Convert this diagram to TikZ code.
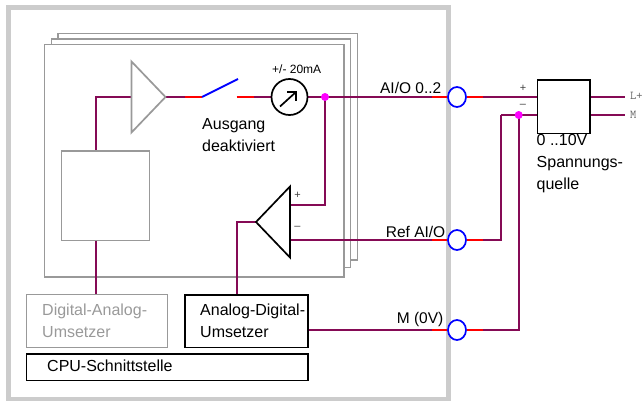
\documentclass[tikz,border=0pt]{standalone}
\usepackage{fontspec}
\setmainfont{Liberation Sans}
\usetikzlibrary{shapes.geometric,positioning}
\definecolor{wirecol}{HTML}{850A55}
\definecolor{framecol}{HTML}{CCCCCC}
\definecolor{cardcol}{HTML}{999999}
\definecolor{dotcol}{HTML}{FF00FF}
\begin{document}
\begin{tikzpicture}[x=1pt,y=-1pt,line join=miter]
 \tikzstyle{frame node}=[rectangle,draw=framecol,line width=5pt,minimum width=440.5pt,minimum height=391.5pt]
 \tikzstyle{card node}=[rectangle,draw=cardcol,fill=white,line width=1.5pt,anchor=north west]
 \tikzstyle{gray box}=[rectangle,draw=cardcol,line width=1.3pt,anchor=north west,inner sep=0]
 \tikzstyle{black box}=[rectangle,draw=black,line width=1.7pt,anchor=north west,inner sep=0]
 \tikzset{
 	main text/.style={font=\fontsize{16}{22}\selectfont,anchor=west,align=left,inner sep=0},
 	port text/.style={font=\fontsize{15.5}{20}\selectfont,anchor=east,inner sep=0},
 	sign text/.style={font=\fontsize{11}{11}\selectfont,text=black!75,inner sep=0},
 	pin text/.style={font=\ttfamily\fontsize{12}{12}\selectfont,text=black!60,anchor=west,inner sep=0},
 	amp node/.style={isosceles triangle,isosceles triangle stretches,anchor=apex,inner sep=0,outer sep=0,
 	  minimum width=71pt,minimum height=34pt,line width=1.7pt},
 	term node/.style={ellipse,draw=blue,fill=white,line width=1.7pt,minimum width=18pt,minimum height=20pt,inner sep=0},
 	junction node/.style={circle,fill=dotcol,minimum size=8pt,inner sep=0},
 	wire/.style={draw=wirecol,line width=2pt},
 	red wire/.style={draw=red,line width=2pt}
 }
 \useasboundingbox (0,0) rectangle (643,401);

       \node[frame node] (frame) at (228.5,203.75) {};
       \node[card node,minimum width=299.5pt,minimum height=226.5pt] (card3) at (57.3,32.7) {};
       \node[card node,minimum width=299pt,minimum height=228.5pt] (card2) at (50.7,38.3) {};
       \node[card node,minimum width=299.5pt,minimum height=232pt] (card1) at (43.5,44) {};

       \coordinate (dt) at (96,150.5);
       \coordinate (db) at (96,240);
       \coordinate (da) at (96,294);
       \coordinate (adcin) at (237,294);
       \coordinate (swa) at (202,97);
       \coordinate (swb) at (238,79);
       \coordinate (swc) at (236.5,97);
       \coordinate (ra) at (185,97);
       \coordinate (rb) at (254,97);
       \coordinate (in0) at (536.5,97);
       \coordinate (in1) at (536.5,115);
       \coordinate (out0) at (625,97);
       \coordinate (out1) at (625,115);
       \coordinate (src0) at (589,97);
       \coordinate (src1) at (589,115);
       \coordinate (bend) at (501,115);
       \coordinate (plus) at (290,205);
       \coordinate (minus) at (290,240);
       \coordinate (adcout) at (307.3,330);
       \coordinate (ma) at (280,106.5);
       \coordinate (mb) at (296,92);
       \coordinate (mc) at (287,92);
       \coordinate (md) at (296,101);
       \coordinate (l0) at (432,97);
       \coordinate (l1) at (432,240);
       \coordinate (l2) at (432,330);
       \coordinate (p0) at (483,97);
       \coordinate (p1) at (483,240);
       \coordinate (p2) at (483,330);

     \draw[wire] (dt) |- (131.5,97);
     \path[wire] (da) edge (db);
     \path[wire] (166,97) edge (ra);
     \path[wire] (rb) edge (272,97);
     \path[wire] (307,97) edge (l0);
     \draw[wire] (plus) -| (325,97);
     \path[wire] (minus) edge (l1);
     \draw[wire] (256,222) -| (adcin);
     \path[wire] (adcout) edge (l2);
     \path[wire] (p0) edge (in0);
     \path[wire] (src0) edge (out0);
     \path[wire] (src1) edge (out1);
     \path[wire] (bend) edge (in1);
     \draw[wire] (bend) |- (p1);
     \draw[wire] (518.7,115) |- (p2);

       \node[amp node,draw=cardcol,shape border rotate=0] (dac amp) at (165.5,97) {};
       \node[amp node,draw=black,shape border rotate=180] (adc amp) at (256,222) {};
       \node[gray box,minimum width=88pt,minimum height=89.5pt] (dac core) at (61,150.5) {};
       \node[gray box,minimum width=141pt,minimum height=52.5pt] (dac) at (25.7,294) {};
       \node[black box,minimum width=123.3pt,minimum height=52.5pt] (adc) at (184,294) {};
       \node[black box,minimum width=281.6pt,minimum height=26.7pt] (cpu) at (25.7,353) {};
       \node[black box,minimum width=52.5pt,minimum height=53.4pt] (source) at (536.5,79.3) {};

       \node[circle,draw=black,line width=1.7pt,minimum size=36pt,inner sep=0] (meter) at (289.5,97) {};
       \node[junction node] (j0) at (325,97) {};
       \node[junction node] (j1) at (518.7,115) {};

       \node[term node] (t0) at (457,97) {};
       \node[term node] (t1) [below of=t0,node distance=143pt] {};
       \node[term node] (t2) [below of=t1,node distance=90pt] {};

       \node[main text] (ausgang) at (202,135) {Ausgang\\deaktiviert};
       \node[font=\fontsize{12}{12}\selectfont,inner sep=0] (range) at (296.7,69) {+/- 20mA};
       \node[port text] (lt0) at (441.5,88) {AI/O 0..2};
       \node[port text] (lt1) at (445.5,232) {Ref AI/O};
       \node[port text] (lt2) at (443.5,319) {M (0V)};
       \node[main text] (ldac) [text=cardcol] at (42,321) {Digital-Analog-\\Umsetzer};
       \node[main text] (ladc) at (200,321) {Analog-Digital-\\Umsetzer};
       \node[main text] (lcpu) at (47,365.5) {CPU-Schnittstelle};
       \node[main text] (lsrc) at (536.5,164) {0 ..10V\\Spannungs-\\quelle};
       \node[sign text] (s0) at (297.5,195) {+};
       \node[sign text] (s1) at (297.5,228) {--};
       \node[sign text] (s2) at (523,88) {+};
       \node[sign text] (s3) at (523,105.5) {--};
       \node[pin text] (pl) at (630,95.5) {L+};
       \node[pin text] (pm) at (630,114.5) {M};

     \path[red wire] (ra) edge (swa);
     \path[red wire] (swc) edge (rb);
     \path[red wire] (l0) edge (t0);
     \path[red wire] (t0) edge (p0);
     \path[red wire] (l1) edge (t1);
     \path[red wire] (t1) edge (p1);
     \path[red wire] (l2) edge (t2);
     \path[red wire] (t2) edge (p2);

     \path[draw=blue,line width=2pt] (swa) edge (swb);
     \draw[line width=1.7pt] (ma) -- (mb);
     \draw[line width=1.7pt] (mc) -- (mb) -- (md);
 \end{tikzpicture}
\end{document}
